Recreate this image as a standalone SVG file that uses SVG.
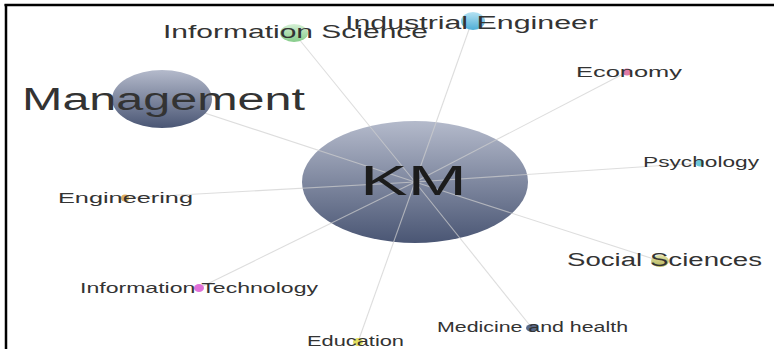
<svg xmlns="http://www.w3.org/2000/svg" width="774" height="349" viewBox="0 0 774 349">
<style>
text{font-family:"Liberation Sans",Arial,sans-serif;fill:#333;}
.edge{stroke:#cfcfcf;stroke-width:1.1;stroke-opacity:0.7;fill:none;}
.frame{stroke:#000;stroke-width:2.5;}
</style>
<defs>
<linearGradient id="gSlate" x1="0" y1="0" x2="0" y2="1">
<stop offset="0" stop-color="#b4bacb"/><stop offset="1" stop-color="#4a5674"/>
</linearGradient>
<linearGradient id="gGreen" x1="0" y1="0" x2="0" y2="1">
<stop offset="0" stop-color="#d4f0d4"/><stop offset="1" stop-color="#86cc8a"/>
</linearGradient>
<linearGradient id="gBlue" x1="0" y1="0" x2="0" y2="1">
<stop offset="0" stop-color="#b5e2f2"/><stop offset="1" stop-color="#4eaed6"/>
</linearGradient>
<linearGradient id="gOlive" x1="0" y1="0" x2="0" y2="1">
<stop offset="0" stop-color="#e2e2a8"/><stop offset="1" stop-color="#b4b458"/>
</linearGradient>
</defs>
<rect width="774" height="349" fill="#fff"/>
<line class="frame" x1="4.5" y1="5" x2="774" y2="5"/>
<line class="frame" x1="6" y1="4" x2="6" y2="349"/>

<g id="node-km">
<ellipse cx="415" cy="182" rx="113" ry="61" fill="url(#gSlate)"/>
</g>

<g id="connectors">
<line class="edge" x1="415" y1="182" x2="294" y2="33"/>
<line class="edge" x1="415" y1="182" x2="472" y2="21"/>
<line class="edge" x1="415" y1="182" x2="162" y2="99"/>
<line class="edge" x1="415" y1="182" x2="627" y2="72"/>
<line class="edge" x1="415" y1="182" x2="700" y2="163"/>
<line class="edge" x1="415" y1="182" x2="125" y2="198"/>
<line class="edge" x1="415" y1="182" x2="199" y2="288"/>
<line class="edge" x1="415" y1="182" x2="358" y2="342"/>
<line class="edge" x1="415" y1="182" x2="660" y2="261"/>
<line class="edge" x1="415" y1="182" x2="532" y2="328"/>
</g>

<g id="node-information-science">
<ellipse cx="294" cy="33" rx="14" ry="9" fill="url(#gGreen)"/>
<text x="163" y="38" font-size="19" textLength="265" lengthAdjust="spacingAndGlyphs">Information Science</text>
</g>
<g id="node-industrial-engineer">
<ellipse cx="473" cy="21" rx="12" ry="9" fill="url(#gBlue)"/>
<text x="345" y="29" font-size="18" textLength="253" lengthAdjust="spacingAndGlyphs">Industrial Engineer</text>
</g>
<g id="node-management">
<ellipse cx="162" cy="99" rx="50" ry="29" fill="url(#gSlate)"/>
<text x="22" y="110" font-size="31" textLength="283" lengthAdjust="spacingAndGlyphs">Management</text>
</g>
<g id="node-economy">
<ellipse cx="627" cy="72" rx="4" ry="3.5" fill="#e07aa6"/>
<text x="576" y="77" font-size="15" textLength="106" lengthAdjust="spacingAndGlyphs">Economy</text>
</g>
<g id="node-psychology">
<ellipse cx="700" cy="163" rx="4" ry="3.5" fill="#6cc8d8"/>
<text x="643" y="167" font-size="14" textLength="116" lengthAdjust="spacingAndGlyphs">Psychology</text>
</g>
<g id="node-engineering">
<ellipse cx="125" cy="198" rx="4" ry="3.5" fill="#e0b060"/>
<text x="58" y="203" font-size="15" textLength="135" lengthAdjust="spacingAndGlyphs">Engineering</text>
</g>
<g id="node-information-technology">
<ellipse cx="199" cy="288" rx="5" ry="4" fill="#e070d8"/>
<text x="80" y="293" font-size="15" textLength="238" lengthAdjust="spacingAndGlyphs">Information Technology</text>
</g>
<g id="node-education">
<ellipse cx="358" cy="342" rx="5" ry="4" fill="#e4e060"/>
<text x="307" y="346" font-size="15" textLength="97" lengthAdjust="spacingAndGlyphs">Education</text>
</g>
<g id="node-social-sciences">
<ellipse cx="660" cy="261" rx="9" ry="6" fill="url(#gOlive)"/>
<text x="567" y="266" font-size="18" textLength="195" lengthAdjust="spacingAndGlyphs">Social Sciences</text>
</g>
<g id="node-medicine-and-health">
<ellipse cx="532" cy="328" rx="6" ry="4" fill="#5a6a8a"/>
<text x="437" y="332" font-size="14" textLength="191" lengthAdjust="spacingAndGlyphs">Medicine and health</text>
</g>
<g id="label-km">
<text x="360" y="195" font-size="42" style="fill:#1c1c1c" textLength="107" lengthAdjust="spacingAndGlyphs">KM</text>
</g>
</svg>
